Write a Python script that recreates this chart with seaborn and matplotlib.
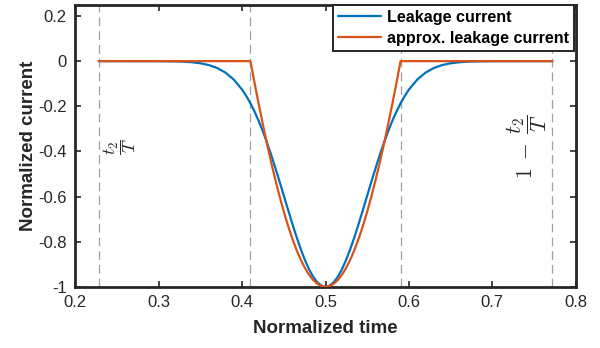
import numpy as np
import pandas as pd
import matplotlib
matplotlib.use("Agg")
import matplotlib.pyplot as plt
import seaborn as sns

# ---- data ----
leak_t = [0.228, 0.30, 0.32, 0.33, 0.34, 0.35, 0.36, 0.37, 0.38, 0.39, 0.40, 0.405, 0.41,
          0.415, 0.42, 0.425, 0.43, 0.435, 0.44, 0.445, 0.45, 0.455, 0.46, 0.465,
          0.47, 0.475, 0.48, 0.485, 0.49, 0.495, 0.50, 0.505, 0.51, 0.515, 0.52,
          0.525, 0.53, 0.535, 0.54, 0.545, 0.55, 0.555, 0.56, 0.565, 0.57, 0.575,
          0.58, 0.585, 0.59, 0.595, 0.60, 0.61, 0.62, 0.63, 0.64, 0.65, 0.66,
          0.67, 0.68, 0.70, 0.772]
leak_i = [0.0, -0.0003, -0.0012, -0.0025, -0.0050, -0.0095, -0.0173, -0.0303, -0.0507,
          -0.0817, -0.1262, -0.1544, -0.1870, -0.2241, -0.2659, -0.3121, -0.3627,
          -0.4170, -0.4746, -0.5346, -0.5960, -0.6576, -0.7181, -0.7760, -0.8300,
          -0.8786, -0.9205, -0.9545, -0.9795, -0.9948, -1.0, -0.9948, -0.9795,
          -0.9545, -0.9205, -0.8786, -0.8300, -0.7760, -0.7181, -0.6576, -0.5960,
          -0.5346, -0.4746, -0.4170, -0.3627, -0.3121, -0.2659, -0.2241, -0.1870,
          -0.1544, -0.1262, -0.0817, -0.0507, -0.0303, -0.0173, -0.0095, -0.0050,
          -0.0025, -0.0012, -0.0003, 0.0]

approx_t = [0.228, 0.41, 0.415, 0.42, 0.425, 0.43, 0.435, 0.44, 0.445, 0.45, 0.455,
            0.46, 0.465, 0.47, 0.475, 0.48, 0.485, 0.49, 0.495, 0.50, 0.505, 0.51,
            0.515, 0.52, 0.525, 0.53, 0.535, 0.54, 0.545, 0.55, 0.555, 0.56, 0.565,
            0.57, 0.575, 0.58, 0.585, 0.59, 0.772]
approx_i = [0.0, 0.0, -0.0976, -0.1918, -0.2822, -0.3686, -0.4505, -0.5278, -0.6001,
            -0.6671, -0.7286, -0.7843, -0.8340, -0.8775, -0.9146, -0.9452, -0.9691,
            -0.9863, -0.9966, -1.0, -0.9966, -0.9863, -0.9691, -0.9452, -0.9146,
            -0.8775, -0.8340, -0.7843, -0.7286, -0.6671, -0.6001, -0.5278, -0.4505,
            -0.3686, -0.2822, -0.1918, -0.0976, 0.0, 0.0]

marker_times = [0.228, 0.41, 0.59, 0.772]
series_names = ["Leakage current", "approx. leakage current"]
x_ticks = [0.2, 0.3, 0.4, 0.5, 0.6, 0.7, 0.8]
y_ticks = [0.2, 0.0, -0.2, -0.4, -0.6, -0.8, -1.0]
y_ticklabels = ["0.2", "0", "-0.2", "-0.4", "-0.6", "-0.8", "-1"]

# ---- styling ----
sns.set_style("ticks")
plt.rcParams["font.family"] = ["Liberation Sans", "DejaVu Sans"]
plt.rcParams["axes.unicode_minus"] = False
plt.rcParams["mathtext.fontset"] = "cm"

blue = "#0072BD"
orange = "#D95319"
dark = "#262626"

fig = plt.figure(figsize=(6.0, 3.48), dpi=100)
ax = fig.add_axes([0.1255, 0.176, 0.834, 0.8104])

for xv in marker_times:
    ax.axvline(xv, color="#a0a0a0", lw=0.9, ls=(0, (7, 4)), zorder=1)

df1 = pd.DataFrame({"t": leak_t, "i": leak_i})
df2 = pd.DataFrame({"t": approx_t, "i": approx_i})
sns.lineplot(data=df1, x="t", y="i", ax=ax, color=blue, lw=1.6,
             label=series_names[0], zorder=3, sort=False)
sns.lineplot(data=df2, x="t", y="i", ax=ax, color=orange, lw=1.6,
             label=series_names[1], zorder=4, sort=False)

ax.set_xlim(0.2, 0.8)
ax.set_ylim(-1.0, 0.25)
ax.set_xticks(x_ticks)
ax.set_xticklabels([f"{v:.1f}" for v in x_ticks])
ax.set_yticks(y_ticks)
ax.set_yticklabels(y_ticklabels)

ax.tick_params(direction="in", length=4, width=1.2, colors=dark,
               labelsize=12, top=True, right=True, pad=6)
for s in ax.spines.values():
    s.set_visible(True)
    s.set_linewidth(2.0)
    s.set_color(dark)

ax.set_xlabel("Normalized time", fontsize=13.5, fontweight="bold", color=dark, labelpad=7)
ax.set_ylabel("Normalized current", fontsize=13.5, fontweight="bold", color=dark, labelpad=1)

ax.text(0.231, -0.38, r"$\dfrac{t_2}{T}$", rotation=90, fontsize=13,
        ha="left", va="center", color=dark)
ax.text(0.768, -0.38, r"$1\;-\;\dfrac{t_2}{T}$", rotation=90, fontsize=15.5,
        ha="right", va="center", color=dark)

leg = ax.legend(loc="upper right", bbox_to_anchor=(0.996, 1.0), frameon=True,
                fancybox=False, prop={"weight": "bold", "size": 11.6},
                handlelength=2.7, borderpad=0.3, labelspacing=0.38,
                handletextpad=0.35, borderaxespad=0.0)
leg.get_frame().set_edgecolor(dark)
leg.get_frame().set_linewidth(1.4)
leg.get_frame().set_alpha(1.0)
for t in leg.get_texts():
    t.set_color("black")

fig.savefig("out.png", dpi=100)
